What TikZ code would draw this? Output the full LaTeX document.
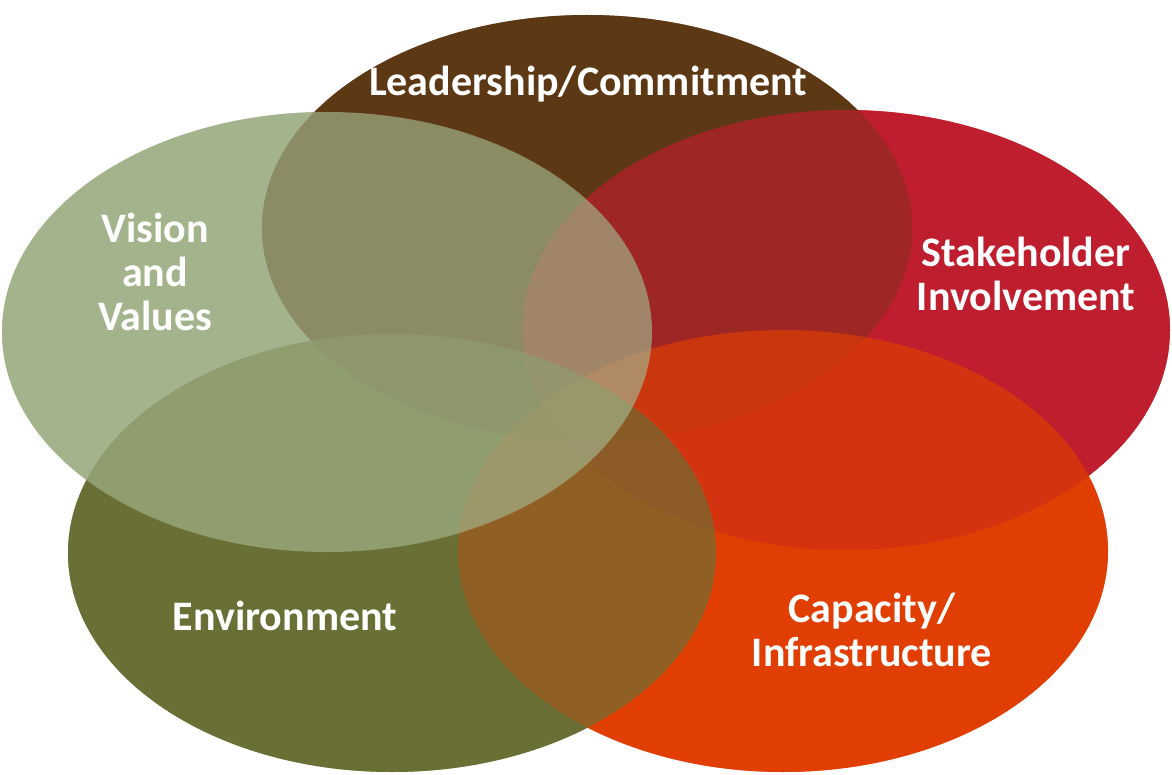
\documentclass[tikz,border=0pt]{standalone}
\usepackage{fontspec}
\setmainfont{Carlito}
\usepackage{xcolor}

\definecolor{leadbrown}{HTML}{5D3814}
\definecolor{stakered}{HTML}{BE1E2D}
\definecolor{caporange}{HTML}{E03E02}
\definecolor{envolive}{HTML}{6A7035}
\definecolor{visiongreen}{HTML}{A3B48C}

\tikzset{
  blend/.style={fill opacity=0.67},
  lbl/.style={text=white, font=\bfseries\fontsize{42}{44}\selectfont, align=center, inner sep=0pt}
}

\begin{document}
\begin{tikzpicture}[x=1pt,y=-1pt]
  \useasboundingbox (0,0) rectangle (1172,775);
  \fill[white] (0,0) rectangle (1172,775);
  % centres of the five rings
  \coordinate (lead) at (587,228);
  \coordinate (stake) at (846,330);
  \coordinate (cap) at (783,551);
  \coordinate (env) at (392,553);
  \coordinate (vis) at (327,332);
  % first pass: solid, lowest ring wins
  \fill[visiongreen] (vis) ellipse [x radius=325pt, y radius=220pt];
  \fill[envolive] (env) ellipse [x radius=324pt, y radius=219pt];
  \fill[caporange] (cap) ellipse [x radius=325pt, y radius=221pt];
  \fill[stakered] (stake) ellipse [x radius=324pt, y radius=220pt];
  \fill[leadbrown] (lead) ellipse [x radius=325pt, y radius=213pt];
  % second pass: see-through, in stacking order
  \fill[leadbrown,blend] (lead) ellipse [x radius=325pt, y radius=213pt];
  \fill[stakered,blend] (stake) ellipse [x radius=324pt, y radius=220pt];
  \fill[caporange,blend] (cap) ellipse [x radius=325pt, y radius=221pt];
  \fill[envolive,blend] (env) ellipse [x radius=324pt, y radius=219pt];
  \fill[visiongreen,blend] (vis) ellipse [x radius=325pt, y radius=220pt];
  % labels
  \node[lbl] (leadtxt) at (588,84) {Leadership/Commitment};
  \node[lbl] (vistxt) at (155,272) {Vision\\and\\Values};
  \node[lbl] (staketxt) at (1026,274) {Stakeholder\\Involvement};
  \node[lbl] (envtxt) at (285,616) {Environment};
  \node[lbl] (captxt) at (872,630) {Capacity/\\Infrastructure};
\end{tikzpicture}
\end{document}
